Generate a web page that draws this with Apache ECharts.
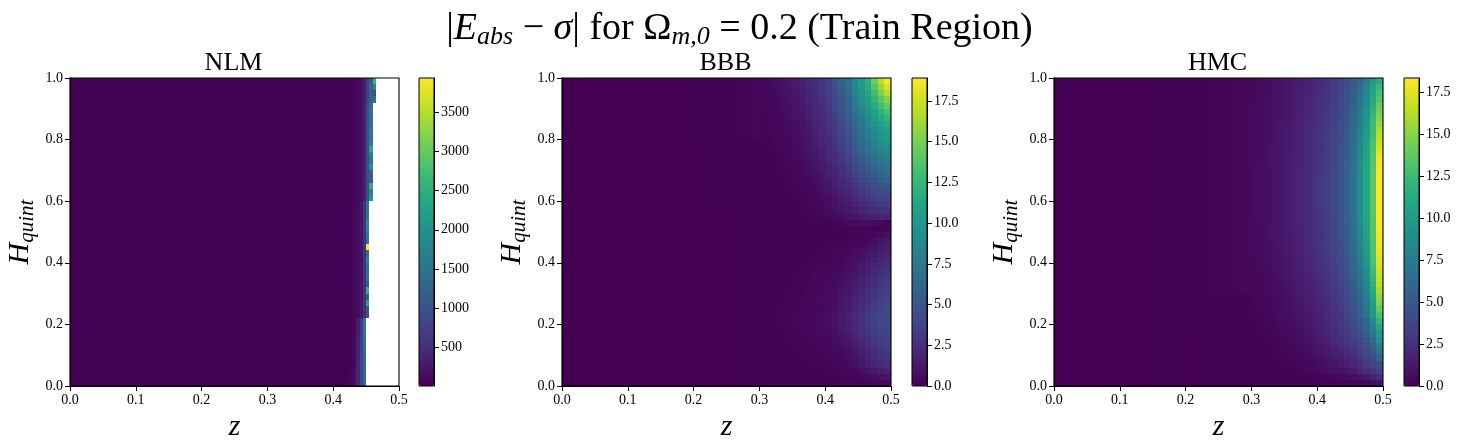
<!DOCTYPE html>
<html><head><meta charset="utf-8">
<style>html,body{margin:0;padding:0;background:#fff}#c{width:1462px;height:448px}</style>
<script src="https://cdn.jsdelivr.net/npm/echarts@6/dist/echarts.min.js"></script>
</head><body><div id="c"></div>
<script>
const viridis=['#440154','#482475','#414487','#355f8d','#2a788e','#21918c','#22a884','#44bf70','#7ad151','#bddf26','#fde725'];
const panelNames=['NLM','BBB','HMC'];
const xTicks=[0,0.1,0.2,0.3,0.4,0.5];
const yTicks=[0,0.2,0.4,0.6,0.8,1];
const nlmBar=[500,1000,1500,2000,2500,3000,3500];
const bbbBar=[0,2.5,5,7.5,10,12.5,15,17.5];
const hmcBar=[0,2.5,5,7.5,10,12.5,15,17.5];
const nlmRange=[5,3938], bbbRange=[0,18.91], hmcRange=[0,18.35];

// NLM: 100 columns wide. Left of column 84 the surface is flat; columns 84..92 by row (top row first); null = blank
const nlmFlat=15;
const nlmEdge=[
[20,30,50,80,150,300,700,1100,2600],
[20,30,50,80,150,300,700,1300,1800],
[20,30,50,80,150,300,700,1200,900],
[20,30,50,80,150,300,750,1200,1500],
[20,30,55,90,170,350,850,1400,null],
[20,30,55,90,170,350,850,1500,null],
[20,30,55,90,170,350,850,1400,null],
[20,30,55,90,170,350,900,1500,null],
[20,30,55,90,170,350,900,1600,null],
[20,30,55,90,170,350,900,1500,null],
[20,30,55,90,170,350,900,1700,null],
[20,30,55,90,170,350,950,2400,null],
[20,30,55,90,170,350,900,1700,null],
[20,30,55,90,170,350,900,1500,null],
[20,30,55,90,170,350,950,2000,null],
[20,30,55,90,170,350,850,1200,null],
[20,30,55,90,170,350,850,1200,null],
[20,30,55,90,170,350,950,2500,null],
[20,30,55,90,170,350,900,1700,null],
[20,30,55,90,170,350,950,2100,null],
[25,40,70,120,230,550,1500,null,null],
[25,40,70,120,230,550,1500,null,null],
[25,40,70,120,230,550,1500,null,null],
[25,40,70,120,230,550,2000,null,null],
[25,40,70,120,230,550,1800,null,null],
[25,40,70,120,230,550,1600,null,null],
[25,40,70,120,230,550,1400,null,null],
[25,40,70,120,230,550,3938,null,null],
[25,40,70,120,230,550,1400,null,null],
[25,40,70,120,230,550,1800,null,null],
[25,40,70,120,230,550,1500,null,null],
[25,40,70,120,230,550,1400,null,null],
[25,40,70,120,230,550,1600,null,null],
[25,40,70,120,230,550,1100,null,null],
[25,40,70,120,230,550,2500,null,null],
[25,40,70,120,230,550,1000,null,null],
[25,40,70,120,230,550,2300,null,null],
[25,40,70,120,230,550,1000,null,null],
[25,40,70,120,230,550,950,null,null],
[30,50,110,320,650,1600,null,null,null],
[30,50,110,320,650,1550,null,null,null],
[30,50,110,320,650,1500,null,null,null],
[30,50,110,340,700,1450,null,null,null],
[30,50,110,340,700,1400,null,null,null],
[30,50,120,360,750,1400,null,null,null],
[30,60,130,380,800,1350,null,null,null],
[30,60,130,400,850,1300,null,null,null],
[30,60,140,400,850,1300,null,null,null],
[30,70,150,400,850,1300,null,null,null],
[30,70,150,400,850,1300,null,null,null]];

// BBB: 50 columns wide. Columns 0..19 shared, columns 20..29 from a shoulder profile picked per row, columns 30..49 by row (top row first)
const bbbLeft=[0,0,0,0,0,0,0,0,0,0,0,0,0,0,0,0,0,0,.01,.01];
const bbbShoulders={A:[.03,.04,.05,.06,.08,.1,.13,.17,.22,.3],B:[.02,.02,.03,.03,.04,.04,.05,.06,.07,.08],C:[.01,.01,.02,.02,.02,.03,.03,.04,.04,.05]};
const bbbBands='AAAAAAAAAABBBBBBBBBBCCCCCCCCCCCCCCCCCCCCCCCCCCCCCC';
const bbbRight=[
[.4,.5,.7,.9,1.1,1.4,1.7,2.1,2.5,3.0,3.6,4.6,5.8,7.0,9.0,10.5,12.0,14.5,17.0,18.9],
[.4,.5,.6,.8,1.0,1.3,1.6,2.0,2.4,2.9,3.5,4.4,5.6,6.8,8.7,10.2,11.6,13.8,16.0,17.8],
[.3,.4,.6,.8,1.0,1.2,1.5,1.9,2.3,2.8,3.4,4.3,5.3,6.6,8.3,9.8,11.1,13.0,15.0,16.8],
[.3,.4,.5,.7,.9,1.1,1.4,1.8,2.2,2.7,3.2,4.1,5.1,6.3,7.9,9.3,10.6,12.2,14.0,15.5],
[.3,.4,.5,.7,.8,1.0,1.3,1.7,2.1,2.5,3.1,3.9,4.9,6.0,7.5,8.8,10.1,11.5,13.0,14.3],
[.3,.3,.4,.6,.7,1.0,1.2,1.6,2.0,2.4,3.0,3.7,4.6,5.7,7.1,8.3,9.5,10.8,12.1,13.2],
[.2,.3,.4,.5,.7,.9,1.1,1.5,1.9,2.3,2.8,3.5,4.4,5.4,6.8,7.9,9.0,10.2,11.4,12.3],
[.2,.3,.4,.5,.6,.8,1.0,1.4,1.8,2.2,2.7,3.3,4.2,5.1,6.4,7.5,8.6,9.7,10.7,11.4],
[.2,.3,.3,.4,.6,.8,1.0,1.3,1.7,2.1,2.6,3.2,4.0,4.8,6.1,7.1,8.2,9.3,10.2,10.8],
[.2,.2,.3,.4,.5,.7,.9,1.2,1.6,2.0,2.4,3.0,3.8,4.6,5.8,6.8,7.8,8.8,9.7,10.3],
[.1,.2,.3,.3,.5,.6,.8,1.1,1.5,1.9,2.3,2.9,3.6,4.4,5.5,6.5,7.4,8.3,9.2,9.7],
[.1,.2,.2,.3,.4,.6,.8,1.0,1.3,1.7,2.1,2.7,3.4,4.1,5.1,6.1,7.0,7.9,8.6,9.1],
[.1,.1,.2,.3,.4,.5,.7,.9,1.2,1.6,2.0,2.5,3.1,3.8,4.8,5.7,6.5,7.3,8.0,8.4],
[.1,.1,.2,.2,.3,.4,.6,.8,1.1,1.4,1.8,2.3,2.9,3.5,4.4,5.2,6.0,6.8,7.4,7.8],
[.1,.1,.1,.2,.3,.4,.5,.7,1.0,1.3,1.6,2.1,2.6,3.2,4.0,4.8,5.5,6.2,6.8,7.1],
[.1,.1,.1,.2,.2,.3,.4,.6,.8,1.1,1.5,1.9,2.4,2.9,3.6,4.4,5.0,5.6,6.2,6.5],
[.1,.1,.1,.1,.2,.3,.4,.5,.7,1.0,1.3,1.7,2.1,2.6,3.3,3.9,4.5,5.0,5.5,5.8],
[.1,.1,.1,.1,.2,.2,.3,.4,.6,.8,1.1,1.5,1.9,2.3,2.9,3.5,4.0,4.5,4.9,5.1],
[.1,.1,.1,.1,.1,.2,.3,.4,.5,.7,1.0,1.3,1.6,2.0,2.5,3.0,3.5,3.9,4.3,4.5],
[.1,.1,.1,.1,.1,.2,.2,.3,.4,.6,.8,1.1,1.4,1.7,2.2,2.6,3.1,3.4,3.7,3.9],
[.1,.1,.1,.1,.1,.1,.2,.3,.4,.5,.7,.9,1.2,1.5,1.9,2.2,2.6,2.9,3.2,3.3],
[.1,.1,.1,.1,.1,.1,.2,.2,.3,.4,.6,.8,1.0,1.2,1.5,1.8,2.1,2.4,2.6,2.7],
[.1,.1,.1,.1,.1,.1,.1,.2,.2,.3,.4,.6,.7,.9,1.1,1.3,1.5,1.7,1.9,1.8],
[.1,.1,.1,.1,.1,.1,.1,.1,.1,.2,.2,.3,.4,.5,.6,.7,.7,.6,.4,.2],
[.1,.1,.1,.1,.1,.1,.1,.1,.1,.1,.1,.2,.2,.2,.2,.2,.1,.1,.1,.3],
[.1,.1,.1,.1,.1,.1,.1,.1,.1,.1,.1,.1,.1,.1,.2,.2,.3,.4,.6,.8],
[.1,.1,.1,.1,.1,.1,.1,.1,.1,.1,.1,.1,.2,.2,.3,.4,.5,.7,1.0,1.2],
[.1,.1,.1,.1,.1,.1,.1,.1,.1,.1,.2,.2,.2,.3,.4,.6,.8,1.0,1.3,1.5],
[.1,.1,.1,.1,.1,.1,.1,.1,.1,.2,.2,.3,.3,.4,.6,.8,1.1,1.3,1.6,1.8],
[.1,.1,.1,.1,.1,.1,.1,.1,.2,.2,.3,.3,.4,.6,.8,1.0,1.3,1.6,1.9,2.1],
[.1,.1,.1,.1,.1,.1,.1,.2,.2,.3,.3,.4,.5,.7,.9,1.2,1.5,1.8,2.1,2.4],
[.1,.1,.1,.1,.1,.1,.2,.2,.3,.3,.4,.5,.6,.8,1.1,1.4,1.7,2.1,2.4,2.7],
[.1,.1,.1,.1,.1,.2,.2,.2,.3,.3,.4,.6,.7,.9,1.2,1.6,2.0,2.3,2.7,3.0],
[.1,.1,.1,.1,.1,.2,.2,.3,.3,.4,.5,.6,.8,1.0,1.4,1.7,2.1,2.5,2.9,3.2],
[.1,.1,.1,.1,.2,.2,.2,.3,.3,.4,.5,.7,.9,1.1,1.5,1.9,2.3,2.7,3.2,3.5],
[.1,.1,.1,.1,.2,.2,.2,.3,.4,.4,.6,.7,1.0,1.3,1.7,2.1,2.5,2.9,3.4,3.7],
[.1,.1,.1,.1,.2,.2,.3,.3,.4,.5,.6,.8,1.1,1.4,1.8,2.2,2.7,3.2,3.6,3.9],
[.1,.1,.1,.2,.2,.2,.3,.3,.4,.5,.6,.9,1.2,1.5,1.9,2.4,2.9,3.3,3.8,4.1],
[.1,.1,.1,.2,.2,.3,.3,.4,.5,.6,.8,1.0,1.3,1.7,2.2,2.7,3.2,3.6,4.0,4.2],
[.1,.1,.1,.2,.2,.3,.3,.4,.5,.6,.8,1.0,1.3,1.7,2.2,2.7,3.2,3.6,4.0,4.2],
[.1,.1,.1,.2,.2,.3,.3,.4,.5,.6,.7,.9,1.2,1.6,2.1,2.6,3.0,3.4,3.8,4.0],
[.1,.1,.1,.1,.2,.2,.3,.3,.4,.5,.6,.8,1.1,1.4,1.9,2.4,2.8,3.2,3.6,3.8],
[.1,.1,.1,.1,.2,.2,.2,.3,.3,.4,.5,.7,.9,1.2,1.7,2.1,2.6,3.0,3.4,3.6],
[.1,.1,.1,.1,.1,.2,.2,.2,.3,.3,.4,.6,.8,1.0,1.4,1.8,2.3,2.7,3.1,3.4],
[.1,.1,.1,.1,.1,.1,.2,.2,.2,.3,.3,.5,.6,.8,1.2,1.6,2.0,2.4,2.8,3.1],
[.1,.1,.1,.1,.1,.1,.1,.2,.2,.2,.3,.4,.5,.7,1.0,1.4,1.8,2.2,2.6,2.9],
[.1,.1,.1,.1,.1,.1,.1,.1,.2,.2,.2,.3,.4,.5,.8,1.1,1.5,1.9,2.2,2.5],
[.1,.1,.1,.1,.1,.1,.1,.1,.1,.1,.2,.2,.3,.4,.5,.7,1.0,1.3,1.6,1.8],
[.1,.1,.1,.1,.1,.1,.1,.1,.1,.1,.1,.1,.2,.2,.3,.4,.5,.7,.9,1.0],
[.1,.1,.1,.1,.1,.1,.1,.1,.1,.1,.1,.1,.1,.1,.1,.1,.2,.3,.4,.5]];

// HMC: same layout as BBB
const hmcLeft=[0,0,0,0,0,0,0,0,.01,.01,.01,.02,.02,.02,.03,.03,.03,.04,.05,.06];
const hmcShoulders={A:[.08,.1,.12,.14,.16,.19,.22,.26,.3,.36],B:[.04,.05,.05,.06,.07,.08,.09,.1,.11,.12],C:[.02,.02,.03,.03,.04,.04,.05,.06,.07,.08]};
const hmcBands='AAAAAAAAAAAAAAAAAAAAAAAAAAAAAAAAAAABBBBBCCCCCCCCCC';
const hmcRight=[
[.4,.5,.6,.8,.9,1.1,1.3,1.5,1.7,2.0,2.3,2.6,3.0,3.5,4.2,5.0,6.2,7.8,9.8,11.5],
[.4,.5,.6,.8,1.0,1.1,1.3,1.5,1.8,2.1,2.4,2.7,3.1,3.6,4.4,5.3,6.5,8.2,10.3,12.2],
[.4,.5,.6,.8,1.0,1.1,1.4,1.6,1.8,2.1,2.4,2.8,3.2,3.7,4.5,5.5,6.8,8.5,10.8,12.9],
[.4,.5,.6,.8,1.0,1.2,1.4,1.6,1.9,2.2,2.5,2.8,3.3,3.8,4.6,5.6,7.0,8.8,11.2,13.4],
[.5,.5,.7,.8,1.0,1.2,1.4,1.6,1.9,2.2,2.5,2.9,3.3,3.9,4.7,5.8,7.2,9.1,11.6,14.0],
[.5,.6,.7,.8,1.0,1.2,1.4,1.7,1.9,2.2,2.6,2.9,3.4,4.0,4.8,5.9,7.4,9.4,11.9,14.5],
[.5,.6,.7,.9,1.0,1.2,1.4,1.7,2.0,2.3,2.6,3.0,3.5,4.1,4.9,6.0,7.6,9.6,12.2,15.0],
[.5,.6,.7,.9,1.1,1.2,1.5,1.7,2.0,2.3,2.7,3.0,3.5,4.2,5.0,6.2,7.8,9.8,12.4,15.5],
[.5,.6,.7,.9,1.1,1.3,1.5,1.7,2.0,2.4,2.7,3.1,3.6,4.3,5.1,6.3,8.0,10.0,12.6,16.0],
[.5,.6,.7,.9,1.1,1.3,1.5,1.8,2.1,2.4,2.8,3.1,3.7,4.3,5.2,6.4,8.2,10.2,12.8,16.5],
[.5,.6,.8,.9,1.1,1.3,1.5,1.8,2.1,2.4,2.8,3.2,3.7,4.4,5.3,6.5,8.4,10.4,13.0,17.0],
[.5,.6,.8,1.0,1.1,1.3,1.5,1.8,2.1,2.5,2.8,3.2,3.8,4.5,5.4,6.6,8.6,10.6,13.2,17.3],
[.5,.6,.8,1.0,1.1,1.3,1.6,1.8,2.1,2.5,2.9,3.3,3.8,4.5,5.4,6.7,8.7,10.7,13.3,17.7],
[.5,.6,.8,1.0,1.2,1.3,1.6,1.8,2.2,2.5,2.9,3.3,3.9,4.6,5.5,6.8,8.8,10.8,13.4,18.0],
[.6,.7,.8,1.0,1.2,1.4,1.6,1.9,2.2,2.5,2.9,3.3,3.9,4.6,5.5,6.8,8.9,10.9,13.5,18.2],
[.6,.7,.8,1.0,1.2,1.4,1.6,1.9,2.2,2.6,3.0,3.4,4.0,4.7,5.6,6.9,9.0,11.0,13.6,18.3],
[.6,.7,.8,1.0,1.2,1.4,1.6,1.9,2.2,2.6,3.0,3.4,4.0,4.7,5.6,6.9,9.0,11.0,13.6,18.3],
[.6,.7,.8,1.0,1.2,1.4,1.6,1.9,2.2,2.6,3.0,3.4,4.0,4.7,5.6,6.9,9.0,11.0,13.6,18.3],
[.6,.7,.8,1.0,1.2,1.4,1.6,1.9,2.2,2.6,3.0,3.4,4.0,4.7,5.6,6.9,9.0,11.0,13.6,18.3],
[.6,.7,.8,1.0,1.2,1.4,1.6,1.9,2.2,2.6,3.0,3.4,4.0,4.7,5.6,6.9,9.0,11.0,13.6,18.3],
[.6,.7,.8,1.0,1.2,1.4,1.6,1.9,2.2,2.6,3.0,3.4,4.0,4.7,5.6,6.9,9.0,11.0,13.6,18.3],
[.6,.7,.8,1.0,1.2,1.4,1.6,1.9,2.2,2.6,3.0,3.4,4.0,4.7,5.6,6.9,9.0,11.0,13.5,18.3],
[.6,.7,.8,1.0,1.2,1.4,1.6,1.9,2.2,2.5,2.9,3.4,3.9,4.6,5.5,6.9,8.9,10.9,13.5,18.3],
[.5,.7,.8,1.0,1.2,1.4,1.6,1.9,2.2,2.5,2.9,3.3,3.9,4.6,5.5,6.8,8.8,10.8,13.5,18.3],
[.5,.6,.8,1.0,1.2,1.3,1.6,1.8,2.1,2.5,2.9,3.3,3.8,4.5,5.4,6.7,8.7,10.7,13.4,18.2],
[.5,.6,.8,1.0,1.1,1.3,1.5,1.8,2.1,2.5,2.8,3.2,3.8,4.5,5.4,6.6,8.6,10.6,13.4,18.1],
[.5,.6,.8,.9,1.1,1.3,1.5,1.8,2.1,2.4,2.8,3.2,3.7,4.4,5.3,6.5,8.4,10.4,13.3,18.0],
[.5,.6,.7,.9,1.1,1.3,1.5,1.8,2.0,2.4,2.7,3.1,3.7,4.3,5.2,6.4,8.2,10.2,13.2,17.9],
[.5,.6,.7,.9,1.0,1.2,1.4,1.7,2.0,2.3,2.7,3.1,3.6,4.2,5.1,6.2,8.0,10.0,13.1,17.7],
[.4,.5,.7,.8,1.0,1.2,1.4,1.7,1.9,2.2,2.6,3.0,3.5,4.1,4.9,6.0,7.8,9.7,13.0,17.5],
[.4,.5,.6,.8,1.0,1.1,1.3,1.6,1.9,2.2,2.5,2.9,3.4,4.0,4.8,5.9,7.5,9.4,12.8,17.2],
[.4,.5,.6,.8,.9,1.1,1.3,1.5,1.8,2.1,2.4,2.8,3.3,3.9,4.7,5.7,7.3,9.1,12.4,16.9],
[.3,.4,.6,.7,.9,1.0,1.2,1.5,1.7,2.0,2.3,2.7,3.2,3.8,4.5,5.5,7.0,8.8,12.0,16.7],
[.3,.4,.5,.7,.8,1.0,1.2,1.4,1.7,1.9,2.2,2.6,3.1,3.6,4.4,5.3,6.8,8.5,11.6,16.4],
[.3,.4,.5,.6,.8,.9,1.1,1.3,1.6,1.8,2.1,2.5,3.0,3.5,4.2,5.1,6.5,8.2,11.2,15.9],
[.3,.3,.4,.6,.7,.9,1.0,1.3,1.5,1.7,2.0,2.4,2.9,3.3,4.0,4.9,6.2,7.9,10.8,15.3],
[.2,.3,.4,.5,.7,.8,1.0,1.2,1.4,1.7,1.9,2.3,2.7,3.2,3.9,4.7,6.0,7.6,10.4,14.7],
[.2,.3,.4,.5,.6,.8,.9,1.1,1.3,1.6,1.8,2.2,2.6,3.1,3.7,4.5,5.8,7.3,10.0,13.9],
[.2,.2,.3,.4,.6,.7,.9,1.0,1.2,1.5,1.7,2.0,2.5,2.9,3.6,4.4,5.6,7.0,9.6,13.0],
[.2,.2,.3,.4,.5,.7,.8,1.0,1.2,1.4,1.7,2.0,2.4,2.9,3.5,4.2,5.1,6.2,8.6,12.0],
[.1,.2,.3,.3,.5,.6,.7,.9,1.1,1.3,1.6,1.9,2.3,2.8,3.3,4.0,4.9,5.9,8.0,11.0],
[.1,.2,.2,.3,.4,.5,.6,.8,1.0,1.2,1.5,1.8,2.1,2.6,3.1,3.7,4.5,5.4,7.4,10.0],
[.1,.1,.2,.2,.3,.4,.5,.7,.9,1.1,1.3,1.6,2.0,2.4,2.9,3.4,4.1,4.9,6.5,9.0],
[.1,.1,.1,.2,.3,.3,.4,.6,.8,1.0,1.2,1.4,1.8,2.2,2.6,3.1,3.7,4.4,5.6,8.0],
[.1,.1,.1,.2,.2,.3,.4,.5,.6,.9,1.1,1.3,1.5,1.8,2.2,2.5,3.4,4.0,4.8,6.8],
[.1,.1,.1,.1,.2,.2,.3,.4,.5,.7,.9,1.1,1.3,1.5,1.9,2.3,2.8,3.5,4.1,5.5],
[.1,.1,.1,.1,.1,.2,.2,.3,.4,.5,.7,.9,1.0,1.3,1.6,1.9,2.4,3.0,3.6,4.3],
[.1,.1,.1,.1,.1,.1,.1,.2,.3,.4,.5,.6,.8,1.0,1.2,1.4,1.9,2.4,2.8,3.4],
[.1,.1,.1,.1,.1,.1,.1,.1,.1,.2,.2,.3,.4,.5,.6,.8,1.0,1.3,1.8,2.2],
[.1,.1,.1,.1,.1,.1,.1,.1,.1,.1,.1,.1,.1,.2,.2,.3,.3,.4,.6,.9]];

const serif='"Liberation Serif"';
const plotLeft=[70,562,1054], plotW=329, plotTop=78, plotH=308;
const barLeft=[419,912,1404], barW=15;
const colCounts=[100,50,50], rowCount=50;

function gridCells(leftFor,rightRows,nCols){ // rows are stored top first; each cell: [z left, H bottom, value, z right, H top]
  const out=[]; const n=rightRows.length; const zMax=xTicks[xTicks.length-1], hMax=yTicks[yTicks.length-1];
  rightRows.forEach((row,i)=>{
    const y=n-1-i;
    leftFor(i).concat(row).forEach((v,x)=>{
      if(v!==null) out.push([x*zMax/nCols,y*hMax/n,v,(x+1)*zMax/nCols,(y+1)*hMax/n]);
    });
  });
  return out;
}
const nlmLeftCols=new Array(84).fill(nlmFlat);
const cells=[
  gridCells(()=>nlmLeftCols,nlmEdge,colCounts[0]),
  gridCells(i=>bbbLeft.concat(bbbShoulders[bbbBands[i]]),bbbRight,colCounts[1]),
  gridCells(i=>hmcLeft.concat(hmcShoulders[hmcBands[i]]),hmcRight,colCounts[2])];
const ranges=[nlmRange,bbbRange,hmcRange], barTicks=[nlmBar,bbbBar,hmcBar];

function renderCell(params,api){
  const a=api.coord([api.value(0),api.value(4)]);
  const b=api.coord([api.value(3),api.value(1)]);
  const x0=Math.round(a[0]),x1=Math.round(b[0]),y0=Math.round(a[1]),y1=Math.round(b[1]);
  return {type:'rect',shape:{x:x0,y:y0,width:x1-x0,height:y1-y0},style:{fill:api.visual('color')}};
}

const grid=[],xAxis=[],yAxis=[],series=[],visualMap=[],title=[];
title.push({text:'|{i|E}{s|abs} \u2212 {i|\u03c3}| for \u03a9{s|m,0} = 0.2 (Train Region)',left:739.5,top:8,padding:0,textAlign:'center',
  textStyle:{fontFamily:serif,fontSize:38,fontWeight:'normal',color:'#000',
   rich:{i:{fontFamily:serif,fontSize:38,fontStyle:'italic',color:'#000'},
         s:{fontFamily:serif,fontSize:26,fontStyle:'italic',color:'#000',padding:[16,0,0,0]}}}});
panelNames.forEach((nm,p)=>{
  title.push({text:nm,left:plotLeft[p]+plotW/2-1,top:50,padding:0,textAlign:'center',
    textStyle:{fontFamily:serif,fontSize:26,fontWeight:'normal',color:'#000'}});
  const rect={left:plotLeft[p],top:plotTop,width:plotW,height:plotH,outerBoundsMode:'none',containLabel:false};
  const g1=grid.length; grid.push({...rect,show:true,backgroundColor:'transparent',borderColor:'#000',borderWidth:1.1,z:10});
  xAxis.push({gridIndex:g1,type:'value',position:'bottom',min:xTicks[0],max:xTicks[xTicks.length-1],interval:0.1,z:10,
    splitLine:{show:false},axisLine:{show:true,onZero:false,lineStyle:{color:'#000',width:1.1}},
    axisTick:{length:5,lineStyle:{color:'#000',width:1}},
    axisLabel:{fontFamily:serif,fontSize:14,color:'#000',margin:7,formatter:v=>v.toFixed(1)},
    name:'z',nameLocation:'middle',nameGap:25,nameTextStyle:{fontFamily:serif,fontStyle:'italic',fontSize:30,color:'#000'}});
  yAxis.push({gridIndex:g1,type:'value',position:'left',min:yTicks[0],max:yTicks[yTicks.length-1],interval:0.2,z:10,
    splitLine:{show:false},axisLine:{show:true,onZero:false,lineStyle:{color:'#000',width:1.1}},
    axisTick:{length:5,lineStyle:{color:'#000',width:1}},
    axisLabel:{fontFamily:serif,fontSize:14,color:'#000',margin:7,formatter:v=>v.toFixed(1)},
    name:'{i|H}{s|quint}',nameLocation:'middle',nameGap:32,nameRotate:90,
    nameTextStyle:{fontFamily:serif,fontSize:30,color:'#000',
      rich:{i:{fontFamily:serif,fontStyle:'italic',fontSize:30,color:'#000'},
            s:{fontFamily:serif,fontStyle:'italic',fontSize:21,color:'#000',padding:[14,0,0,0]}}}});
  series.push({type:'custom',xAxisIndex:xAxis.length-1,yAxisIndex:yAxis.length-1,data:cells[p],renderItem:renderCell,
    encode:{x:[0,3],y:[1,4]},silent:true,progressive:0,animation:false,clip:true});
  // colour bar
  const [lo,hi]=ranges[p];
  visualMap.push({type:'continuous',seriesIndex:p,dimension:2,min:lo,max:hi,calculable:false,hoverLink:false,realtime:false,
    left:barLeft[p],top:plotTop,itemWidth:barW,itemHeight:plotH,padding:0,showLabel:false,text:null,
    inRange:{color:viridis}});
  const g2=grid.length; grid.push({left:barLeft[p],top:plotTop,width:barW,height:plotH,outerBoundsMode:'none',containLabel:false,show:true,backgroundColor:'transparent',borderColor:'#000',borderWidth:1,z:10});
  xAxis.push({gridIndex:g2,type:'value',show:false,min:0,max:1});
  const fmt=p===0?(v=>String(v)):(v=>v.toFixed(1));
  yAxis.push({gridIndex:g2,type:'value',position:'right',min:lo,max:hi,z:10,
    splitLine:{show:false},axisLine:{show:true,onZero:false,lineStyle:{color:'#000',width:1}},
    axisTick:{length:5,lineStyle:{color:'#000',width:1},customValues:barTicks[p]},
    axisLabel:{fontFamily:serif,fontSize:14,color:'#000',margin:7,customValues:barTicks[p],formatter:fmt,showMinLabel:true,showMaxLabel:true}});
});
const chart=echarts.init(document.getElementById('c'),null,{renderer:'canvas'});
chart.setOption({animation:false,backgroundColor:'#fff',title,grid,xAxis,yAxis,series,visualMap});
</script></body></html>
